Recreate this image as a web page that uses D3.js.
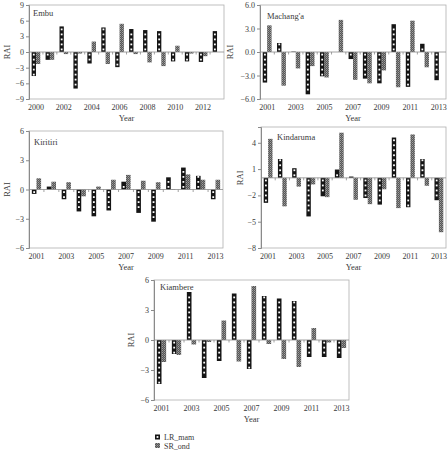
<!DOCTYPE html>
<html lang="en">
<head>
<meta charset="UTF-8">
<title>RAI by station</title>
<style>
  body { margin: 0; background: #fff; }
  svg text { font-family: 'Liberation Serif', 'DejaVu Serif', serif; fill: #3a3a3a; }
</style>
</head>
<body>
<svg id="chart" width="448" height="451"></svg>
<script src="https://d3js.org/d3.v7.min.js"></script>
<script>
// --- data ---
const yearsEmbu = [2000, 2001, 2002, 2003, 2004, 2005, 2006, 2007, 2008, 2009, 2010, 2011, 2012, 2013];
const years = [2001, 2002, 2003, 2004, 2005, 2006, 2007, 2008, 2009, 2010, 2011, 2012, 2013];

const embuLR = [-4.6, -1.5, 4.9, -7.0, -2.2, 4.7, -2.9, 4.4, 4.2, 4.0, -1.8, -1.8, -1.9, 4.0];
const embuSR = [-2.3, -1.5, -0.4, -0.3, 2.0, -2.3, 5.4, -0.4, -2.0, -2.7, 1.2, -0.3, -0.8, 0];

const machangaLR = [-3.9, 1.15, 0.05, -5.4, -3.1, 0, -0.9, -3.4, -4.0, 3.55, -4.45, 1.05, -3.6];
const machangaSR = [3.4, -4.3, -2.1, -1.8, -3.25, 4.1, -3.55, -4.0, -2.35, -4.5, 4.0, -1.95, 0];

const kiritiriLR = [-0.45, 0.3, -1.0, -2.25, -2.75, -2.15, 0.8, -2.4, -3.3, 1.25, 2.25, 1.4, -1.0];
const kiritiriSR = [1.15, 0.8, 0.75, -0.7, 0.3, 1.0, 1.5, 0.9, 0.75, -0.05, 1.55, 1.0, 1.0];

const kindarumaLR = [-2.85, 2.15, 1.1, -4.4, -2.1, 0.95, 0.15, -2.3, -3.05, 4.6, -3.35, 2.15, -2.55];
const kindarumaSR = [4.45, -3.25, -1.0, -0.75, -2.2, 5.15, -2.5, -3.0, -1.3, -3.45, 4.95, -0.9, -6.2];

const kiambereLR = [-4.4, -1.4, 4.8, -3.8, -2.1, 4.65, -2.9, 4.4, 4.15, 3.9, -1.7, -1.7, -1.8];
const kiambereSR = [-2.2, -1.5, -0.45, -0.2, 1.95, -2.15, 5.4, -0.4, -1.9, -2.7, 1.2, -0.25, -0.8];

const embuTicks = [9, 6, 3, 0, -3, -6, -9];
const machangaTicks = [6, 3, 0, -3, -6];
const sixTicks = [6, 3, 0, -3, -6];
const kindarumaTicks = [4, 1, -2, -5, -8];

const embuYearLabels = [2000, 2002, 2004, 2006, 2008, 2010, 2012];
const yearLabels = [2001, 2003, 2005, 2007, 2009, 2011, 2013];

const seriesNames = ["LR_mam", "SR_ond"];

// --- layout ---
const panels = [
  { name: "Embu", years: yearsEmbu, lr: embuLR, sr: embuSR, domain: [-9, 9], ticks: embuTicks,
    fmt: d3.format("d"), labels: embuYearLabels, x0: 29, x1: 224, y0: 5, y1: 99, raiX: 7, tdx: 4, tdy: 11 },
  { name: "Machang'a", years: years, lr: machangaLR, sr: machangaSR, domain: [-6, 6], ticks: machangaTicks,
    fmt: d3.format(".1f"), labels: yearLabels, x0: 260, x1: 446, y0: 5, y1: 99, raiX: 230, tdx: 7, tdy: 14 },
  { name: "Kiritiri", years: years, lr: kiritiriLR, sr: kiritiriSR, domain: [-6, 6], ticks: sixTicks,
    fmt: d3.format("d"), labels: yearLabels, x0: 29, x1: 223, y0: 131, y1: 248, raiX: 7, tdx: 5, tdy: 14 },
  { name: "Kindaruma", years: years, lr: kindarumaLR, sr: kindarumaSR, domain: [-8, 5.8], ticks: kindarumaTicks,
    fmt: d3.format("d"), labels: yearLabels, x0: 261, x1: 446, y0: 127, y1: 248, raiX: 240, tdx: 16, tdy: 13 },
  { name: "Kiambere", years: years, lr: kiambereLR, sr: kiambereSR, domain: [-6, 6], ticks: sixTicks,
    fmt: d3.format("d"), labels: yearLabels, x0: 154, x1: 349, y0: 280, y1: 400, raiX: 131, tdx: 6, tdy: 10 }
];

const svg = d3.select("#chart");
const defs = svg.append("defs");

// checkered grey fill for SR_ond
const pat = defs.append("pattern")
  .attr("id", "srFill")
  .attr("patternUnits", "userSpaceOnUse")
  .attr("width", 2).attr("height", 2);
pat.append("rect").attr("width", 2).attr("height", 2).attr("fill", "#555");
pat.append("rect").attr("width", 1).attr("height", 1).attr("fill", "#a0a0a0");
pat.append("rect").attr("x", 1).attr("y", 1).attr("width", 1).attr("height", 1).attr("fill", "#808080");

function drawPanel(p) {
  const g = svg.append("g");

  const x = d3.scaleBand().domain(p.years).range([p.x0, p.x1]).padding(0);
  const y = d3.scaleLinear().domain(p.domain).range([p.y1, p.y0]);
  const bw = x.bandwidth() * 0.31;

  // plot frame
  g.append("rect")
    .attr("x", p.x0).attr("y", p.y0)
    .attr("width", p.x1 - p.x0).attr("height", p.y1 - p.y0)
    .attr("fill", "none").attr("stroke", "#b0b0b0").attr("stroke-width", 0.8);

  // y axis
  const yAxis = g.append("g")
    .attr("transform", `translate(${p.x0},0)`)
    .call(d3.axisLeft(y).tickValues(p.ticks).tickFormat(p.fmt).tickSize(3).tickPadding(2));
  yAxis.select(".domain").attr("stroke", "#8a8a8a");
  yAxis.selectAll(".tick line").attr("stroke", "#8a8a8a");
  yAxis.selectAll("text").style("font-size", "8px").attr("fill", "#3a3a3a");

  const rows = p.years.map((yr, i) => ({ year: yr, lr: p.lr[i], sr: p.sr[i] }));

  // SR_ond bars
  g.selectAll(".sr").data(rows).enter().append("rect")
    .attr("x", d => x(d.year) + x.bandwidth() / 2)
    .attr("y", d => y(Math.max(0, d.sr)))
    .attr("width", bw)
    .attr("height", d => Math.abs(y(d.sr) - y(0)))
    .attr("fill", "url(#srFill)");

  // LR_mam bars
  g.selectAll(".lr").data(rows).enter().append("rect")
    .attr("x", d => x(d.year) + x.bandwidth() / 2 - bw)
    .attr("y", d => y(Math.max(0, d.lr)))
    .attr("width", bw)
    .attr("height", d => Math.abs(y(d.lr) - y(0)))
    .attr("fill", "#151515");

  // white dots inside LR_mam bars
  rows.forEach(d => {
    const len = Math.abs(y(d.lr) - y(0));
    const dir = d.lr >= 0 ? -1 : 1;
    const cx = x(d.year) + x.bandwidth() / 2 - bw / 2;
    for (let t = 2.6; t + 1 < len; t += 5) {
      g.append("rect")
        .attr("x", cx - 0.9)
        .attr("y", y(0) + dir * t - 0.9)
        .attr("width", 1.8).attr("height", 1.8)
        .attr("fill", "#fff");
    }
  });

  // zero line with category ticks
  g.append("line")
    .attr("x1", p.x0).attr("x2", p.x1)
    .attr("y1", y(0)).attr("y2", y(0))
    .attr("stroke", "#8a8a8a").attr("stroke-width", 0.8);
  g.selectAll(".ctick").data(p.years.slice(1)).enter().append("line")
    .attr("x1", d => x(d)).attr("x2", d => x(d))
    .attr("y1", y(0)).attr("y2", y(0) + 2.5)
    .attr("stroke", "#8a8a8a").attr("stroke-width", 0.8);

  // year labels along the bottom
  g.selectAll(".ylab").data(p.labels).enter().append("text")
    .attr("x", d => x(d) + x.bandwidth() / 2)
    .attr("y", p.y1 + 10.5)
    .attr("text-anchor", "middle")
    .style("font-size", "8px")
    .text(d => d);

  g.append("text")
    .attr("x", (p.x0 + p.x1) / 2)
    .attr("y", p.y1 + 22)
    .attr("text-anchor", "middle")
    .style("font-size", "8.5px")
    .text("Year");

  g.append("text")
    .attr("transform", `translate(${p.raiX},${y(0)}) rotate(-90)`)
    .attr("dy", "0.35em")
    .attr("text-anchor", "middle")
    .style("font-size", "8.5px")
    .text("RAI");

  g.append("text")
    .attr("x", p.x0 + p.tdx)
    .attr("y", p.y0 + p.tdy)
    .style("font-size", "8.5px")
    .text(p.name);
}

panels.forEach(drawPanel);

// legend (kept just inside the bottom edge)
const legend = svg.append("g").attr("transform", "translate(155,434.5)");
seriesNames.forEach((s, i) => {
  const row = legend.append("g").attr("transform", `translate(0,${i * 8.5})`);
  row.append("rect").attr("width", 5).attr("height", 5)
    .attr("fill", i === 0 ? "#151515" : "url(#srFill)");
  if (i === 0) {
    row.append("rect").attr("x", 1.6).attr("y", 1.6).attr("width", 1.8).attr("height", 1.8).attr("fill", "#fff");
  }
  row.append("text").attr("x", 9).attr("y", 5.5).style("font-size", "8px").text(s);
});
</script>
</body>
</html>
